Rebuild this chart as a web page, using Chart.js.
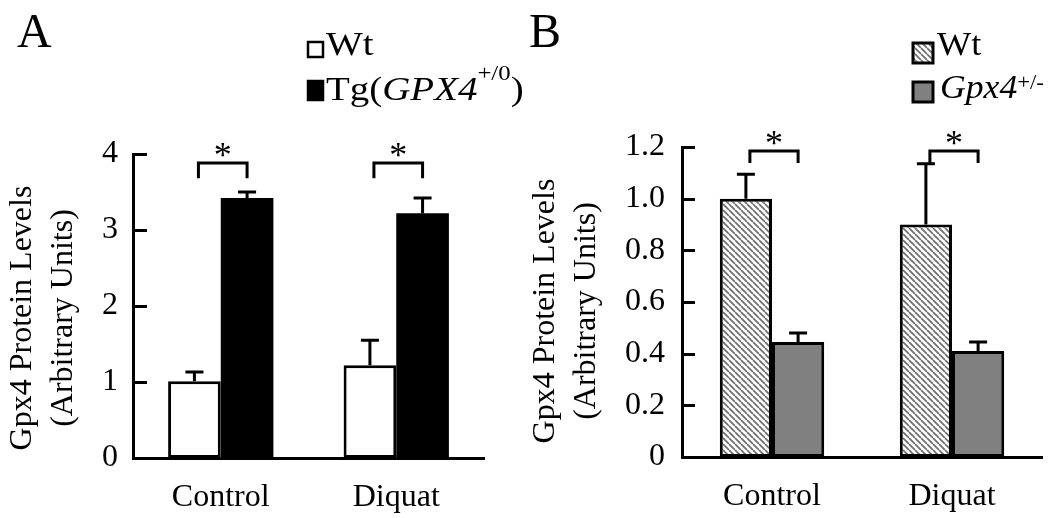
<!DOCTYPE html>
<html>
<head>
<meta charset="utf-8">
<script src="https://cdn.jsdelivr.net/npm/chart.js@4/dist/chart.umd.min.js"></script>
<style>
  html, body { margin: 0; padding: 0; background: #fff; }
  #wrap { position: relative; width: 1050px; height: 518px; overflow: hidden; }
  .panel { position: absolute; top: 0; width: 525px; height: 518px; }
</style>
</head>
<body>
<div id="wrap">
  <div class="panel" style="left:0"><canvas id="chartA" width="525" height="518"></canvas></div>
  <div class="panel" style="left:525px"><canvas id="chartB" width="525" height="518"></canvas></div>
</div>
<script>
// ---------------- data ----------------
const categories = ['Control', 'Diquat'];

// Panel A
const aWt = [1.01, 1.22];
const aWtErr = [0.12, 0.33];
const aTg = [3.42, 3.22];
const aTgErr = [0.08, 0.20];
const aTickLabels = ['0', '1', '2', '3', '4'];
const aSigTop = [3.88, 3.88];
const aSigLeg = [3.68, 3.68];
const aLegendWt = [{ t: 'Wt' }];
const aLegendTg = [{ t: 'Tg(' }, { t: 'GPX4', i: true }, { t: '+/0', sup: true }, { t: ')' }];

// Panel B
const bWt = [1.00, 0.90];
const bWtErr = [0.095, 0.235];
const bHet = [0.445, 0.41];
const bHetErr = [0.035, 0.035];
const bTickLabels = ['0', '0.2', '0.4', '0.6', '0.8', '1.0', '1.2'];
const bSigTop = [1.185, 1.185];
const bSigLeg = [1.138, 1.138];
const bLegendWt = [{ t: 'Wt' }];
const bLegendHet = [{ t: 'Gpx4', i: true }, { t: '+/-', sup: true }];

const yTitle = ['Gpx4 Protein Levels', '(Arbitrary Units)'];

// ---------------- helpers ----------------
const FAM = '"Liberation Serif", "Times New Roman", Times, serif';
const fnt = (sz, it) => (it ? 'italic ' : '') + sz + 'px ' + FAM;

function drawRich(ctx, runs, x, y, size, supSize, supRaise, hs) {
  ctx.save();
  ctx.translate(x, y);
  ctx.scale(hs, 1);
  let cx = 0;
  ctx.textAlign = 'left';
  ctx.textBaseline = 'alphabetic';
  runs.forEach(r => {
    const sz = r.sup ? supSize : size;
    ctx.font = fnt(sz, r.i);
    ctx.fillText(r.t, cx, r.sup ? -supRaise : 0);
    cx += ctx.measureText(r.t).width;
  });
  ctx.restore();
}

function makeHatch() {
  const c = document.createElement('canvas');
  c.width = 6; c.height = 6;
  const g = c.getContext('2d');
  g.fillStyle = '#fff'; g.fillRect(0, 0, 6, 6);
  g.strokeStyle = '#6f6f6f'; g.lineWidth = 1.7;
  [-6, 0, 6].forEach(k => { g.beginPath(); g.moveTo(k, 0); g.lineTo(k + 6, 6); g.stroke(); });
  return document.createElement('canvas').getContext('2d').createPattern(c, 'repeat');
}
const hatch = makeHatch();

const deco = {
  id: 'deco',
  afterDraw(chart, args, o) {
    const ctx = chart.ctx;
    const xs = chart.scales.x, ys = chart.scales.y;
    ctx.save();
    ctx.strokeStyle = '#000'; ctx.fillStyle = '#000';
    ctx.lineWidth = 3; ctx.lineCap = 'butt';

    // inward tick marks
    ys.ticks.forEach(t => {
      const y = Math.round(ys.getPixelForValue(t.value)) + 0.5;
      ctx.beginPath(); ctx.moveTo(xs.left, y); ctx.lineTo(xs.left + o.tickLen, y); ctx.stroke();
    });

    // error bars (upper only)
    o.errs.forEach((errArr, di) => {
      const meta = chart.getDatasetMeta(di);
      const vals = chart.data.datasets[di].data;
      meta.data.forEach((bar, j) => {
        const yTop = ys.getPixelForValue(vals[j] + errArr[j]);
        ctx.beginPath();
        ctx.moveTo(bar.x, bar.y); ctx.lineTo(bar.x, yTop);
        ctx.moveTo(bar.x - o.capW / 2, yTop); ctx.lineTo(bar.x + o.capW / 2, yTop);
        ctx.stroke();
      });
    });

    // significance brackets
    const m0 = chart.getDatasetMeta(0), m1 = chart.getDatasetMeta(1);
    o.sigTop.forEach((v, j) => {
      const xl = m0.data[j].x + o.legOff, xr = m1.data[j].x;
      const yt = ys.getPixelForValue(v), yl = ys.getPixelForValue(o.sigLeg[j]);
      ctx.beginPath();
      ctx.moveTo(xl, yl); ctx.lineTo(xl, yt); ctx.lineTo(xr, yt); ctx.lineTo(xr, yl);
      ctx.stroke();
      ctx.font = fnt(36);
      ctx.textAlign = 'center'; ctx.textBaseline = 'alphabetic';
      ctx.fillText('*', (xl + xr) / 2, yt + o.starDy);
    });

    // panel letter
    ctx.font = fnt(48);
    ctx.textAlign = 'left'; ctx.textBaseline = 'alphabetic';
    ctx.fillText(o.letter, o.letterX, 47);

    // y title (two lines, rotated)
    ctx.font = fnt(o.titleSize);
    ctx.textAlign = 'center';
    o.titleX.forEach((tx, k) => {
      ctx.save();
      ctx.translate(tx, o.titleY);
      ctx.rotate(-Math.PI / 2);
      ctx.fillText(yTitle[k], 0, 0);
      ctx.restore();
    });

    // legend
    o.legend.forEach(L => {
      ctx.fillStyle = L.fill;
      ctx.fillRect(L.box[0], L.box[1], L.box[2], L.box[3]);
      ctx.lineWidth = L.bw; ctx.strokeStyle = '#000';
      ctx.strokeRect(L.box[0], L.box[1], L.box[2], L.box[3]);
      ctx.fillStyle = '#000';
      drawRich(ctx, L.runs, L.tx, L.ty, 33, L.supSize, L.supRaise, L.hs);
    });
    ctx.restore();
  }
};

function baseOptions(p) {
  return {
    responsive: false,
    animation: false,
    events: [],
    layout: { padding: { top: p.top, right: p.right, left: 0, bottom: 0 } },
    plugins: {
      legend: { display: false },
      tooltip: { enabled: false },
      deco: p.deco
    },
    scales: {
      x: {
        type: 'category',
        grid: { display: false, drawTicks: false },
        border: { display: true, color: '#000', width: 3 },
        ticks: { color: '#000', font: { family: FAM, size: 32 }, padding: 20, maxRotation: 0 },
        afterFit: s => { s.height = p.xH; }
      },
      y: {
        min: 0, max: p.max,
        grid: { display: false, drawTicks: false },
        border: { display: true, color: '#000', width: 3 },
        ticks: {
          stepSize: p.step, color: '#000', font: { family: FAM, size: 32 }, padding: p.tickPad,
          callback: (v, i) => p.labels[i]
        },
        afterFit: s => { s.width = p.yW; }
      }
    }
  };
}

new Chart(document.getElementById('chartA'), {
  type: 'bar',
  data: {
    labels: categories,
    datasets: [
      { label: 'Wt', data: aWt, backgroundColor: '#fff', borderColor: '#000', borderWidth: 3, borderSkipped: false,
        barPercentage: 1, categoryPercentage: 0.6 },
      { label: 'Tg(GPX4+/0)', data: aTg, backgroundColor: '#000', borderColor: '#000', borderWidth: 0,
        barPercentage: 1, categoryPercentage: 0.6 }
    ]
  },
  options: baseOptions({
    top: 154, right: 41, xH: 60, yW: 133, max: 4, step: 1, labels: aTickLabels, tickPad: 15,
    deco: {
      errs: [aWtErr, aTgErr], sigTop: aSigTop, sigLeg: aSigLeg, tickLen: 14, capW: 18, legOff: 4, starDy: 4,
      letter: 'A', letterX: 17, titleSize: 32, titleX: [31, 72], titleY: 318,
      legend: [
        { box: [308, 42, 15, 15], fill: '#fff', bw: 2.5, runs: aLegendWt, tx: 326, ty: 55, supSize: 21, supRaise: 20, hs: 1.18 },
        { box: [308, 81, 15, 19], fill: '#000', bw: 2.5, runs: aLegendTg, tx: 326, ty: 100, supSize: 21, supRaise: 20, hs: 1.18 }
      ]
    }
  }),
  plugins: [deco]
});

new Chart(document.getElementById('chartB'), {
  type: 'bar',
  data: {
    labels: categories,
    datasets: [
      { label: 'Wt', data: bWt, backgroundColor: hatch, borderColor: '#000', borderWidth: 3, borderSkipped: false,
        barPercentage: 1, categoryPercentage: 0.58 },
      { label: 'Gpx4+/-', data: bHet, backgroundColor: '#808080', borderColor: '#000', borderWidth: 3, borderSkipped: false,
        barPercentage: 1, categoryPercentage: 0.58 }
    ]
  },
  options: baseOptions({
    top: 147, right: 8, xH: 61, yW: 157, max: 1.2, step: 0.2, labels: bTickLabels, tickPad: 17,
    deco: {
      errs: [bWtErr, bHetErr], sigTop: bSigTop, sigLeg: bSigLeg, tickLen: 13, capW: 18, legOff: 4, starDy: 4,
      letter: 'B', letterX: 4, titleSize: 32, titleX: [29, 70], titleY: 311,
      legend: [
        { box: [388, 43, 20, 20], fill: hatch, bw: 3, runs: bLegendWt, tx: 412, ty: 55, supSize: 21, supRaise: 9, hs: 1.1 },
        { box: [388, 82, 20, 20], fill: '#808080', bw: 3, runs: bLegendHet, tx: 415, ty: 98, supSize: 21, supRaise: 9, hs: 1.08 }
      ]
    }
  }),
  plugins: [deco]
});
</script>
</body>
</html>
